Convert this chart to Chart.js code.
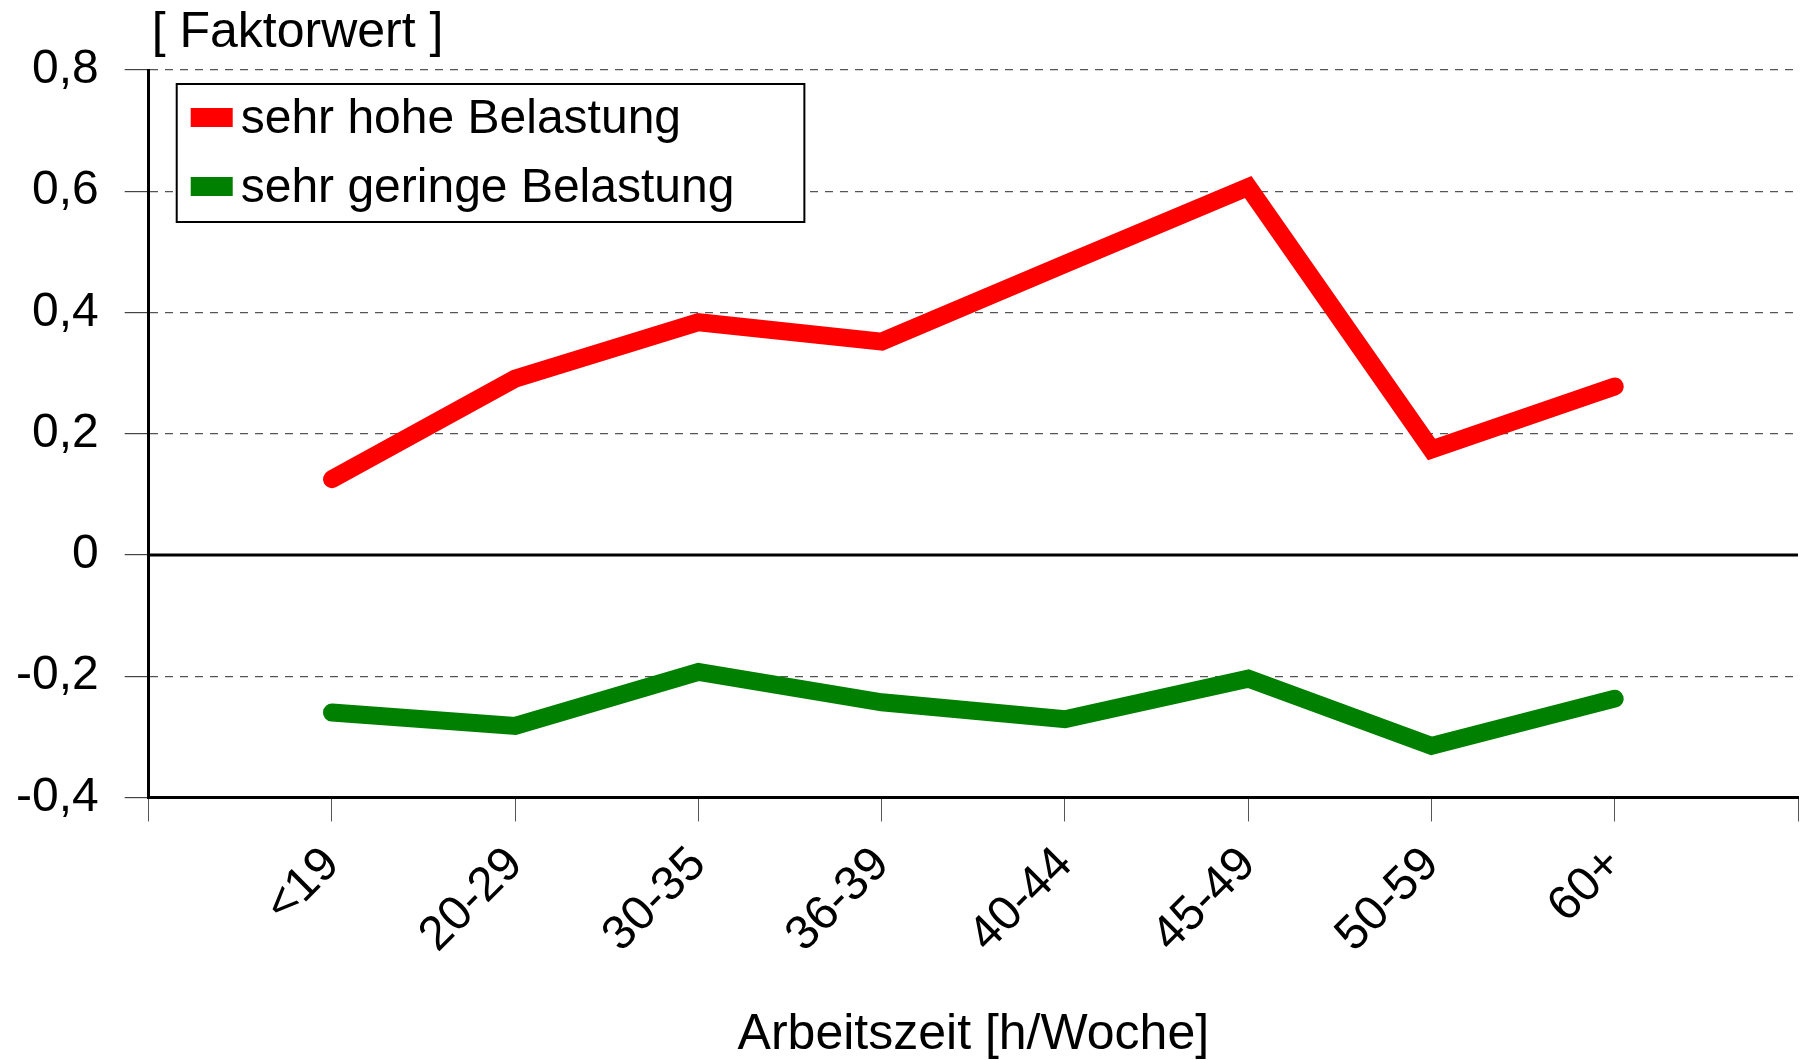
<!DOCTYPE html>
<html>
<head>
<meta charset="utf-8">
<script src="https://cdn.jsdelivr.net/npm/chart.js@4.4.0/dist/chart.umd.min.js"></script>
<style>
    html, body { margin: 0; padding: 0; background: #fff; }
    #wrap { width: 1800px; height: 1060px; position: relative; }
</style>
</head>
<body>
<div id="wrap"><canvas id="myChart"></canvas></div>
<script>
// Werte
const categories = ['<19', '20-29', '30-35', '36-39', '40-44', '45-49', '50-59', '60+'];
const hoheBelastung = [0.125, 0.291, 0.384, 0.352, 0.48, 0.607, 0.174, 0.278];
const geringeBelastung = [-0.260, -0.282, -0.193, -0.243, -0.271, -0.204, -0.315, -0.237];
const yTickValues = [-0.4, -0.2, 0, 0.2, 0.4, 0.6, 0.8];
const yTickLabels = ['-0,4', '-0,2', '0', '0,2', '0,4', '0,6', '0,8'];
const seriesLabels = ['sehr hohe Belastung', 'sehr geringe Belastung'];
const seriesColors = ['#ff0000', '#008000'];

const FONT = "'Liberation Sans', Arial, sans-serif";
Chart.defaults.font.family = FONT;
Chart.defaults.font.size = 48;
Chart.defaults.color = '#000';

// zero line, solid and black
const zeroLine = {
    id: 'zeroLine',
    beforeDatasetsDraw(chart) {
        const { ctx, chartArea, scales } = chart;
        const y = scales.y.getPixelForValue(0);
        ctx.save();
        ctx.strokeStyle = '#000';
        ctx.lineWidth = 3;
        ctx.beginPath();
        ctx.moveTo(chartArea.left, y);
        ctx.lineTo(chartArea.right, y);
        ctx.stroke();
        ctx.restore();
    }
};

// "[ Faktorwert ]" above the y axis
const yUnit = {
    id: 'yUnit',
    afterDraw(chart) {
        const { ctx, chartArea } = chart;
        ctx.save();
        ctx.font = '50px ' + FONT;
        ctx.fillStyle = '#000';
        ctx.textAlign = 'left';
        ctx.textBaseline = 'alphabetic';
        ctx.fillText('[ Faktorwert ]', chartArea.left + 3, chartArea.top - 23);
        ctx.restore();
    }
};

// legend with a frame inside the plot
const boxLegend = {
    id: 'boxLegend',
    afterDraw(chart) {
        const { ctx, chartArea } = chart;
        const sets = chart.data.datasets;
        ctx.save();
        ctx.font = '48px ' + FONT;
        let maxW = 0;
        sets.forEach(ds => { maxW = Math.max(maxW, ctx.measureText(ds.label).width); });
        const left = chartArea.left + 28;
        const top = chartArea.top + 14;
        const rowH = 69;
        const w = 14 + 42 + 8 + maxW + 70;
        const h = rowH * sets.length;
        ctx.fillStyle = '#fff';
        ctx.fillRect(left, top, w, h);
        ctx.strokeStyle = '#000';
        ctx.lineWidth = 2;
        ctx.strokeRect(left, top, w, h);
        sets.forEach((ds, i) => {
            const cy = top + 34 + i * rowH;
            ctx.fillStyle = ds.borderColor;
            ctx.fillRect(left + 14, cy - 10, 42, 19);
            ctx.fillStyle = '#000';
            ctx.textAlign = 'left';
            ctx.textBaseline = 'middle';
            ctx.fillText(ds.label, left + 64, cy + 2);
        });
        ctx.restore();
    }
};

const ctx = document.getElementById('myChart').getContext('2d');
new Chart(ctx, {
    type: 'line',
    data: {
        datasets: [
            {
                label: seriesLabels[0],
                data: hoheBelastung.map((v, i) => ({ x: i + 1, y: v })),
                borderColor: seriesColors[0],
                backgroundColor: seriesColors[0],
                borderWidth: 18,
                borderCapStyle: 'round',
                borderJoinStyle: 'miter',
                pointRadius: 0,
                pointHoverRadius: 0,
                tension: 0
            },
            {
                label: seriesLabels[1],
                data: geringeBelastung.map((v, i) => ({ x: i + 1, y: v })),
                borderColor: seriesColors[1],
                backgroundColor: seriesColors[1],
                borderWidth: 18,
                borderCapStyle: 'round',
                borderJoinStyle: 'miter',
                pointRadius: 0,
                pointHoverRadius: 0,
                tension: 0
            }
        ]
    },
    options: {
        responsive: true,
        maintainAspectRatio: false,
        animation: false,
        events: [],
        layout: {
            padding: { left: 16, right: 2, top: 70, bottom: 0 }
        },
        scales: {
            x: {
                type: 'linear',
                min: 0,
                max: categories.length + 1,
                afterFit: function (scale) {
                    // no extra room for the empty end labels
                    scale.paddingLeft = 0;
                    scale.paddingRight = 0;
                },
                ticks: {
                    stepSize: 1,
                    autoSkip: false,
                    maxRotation: 45,
                    minRotation: 45,
                    padding: 15,
                    callback: function (value) {
                        return categories[value - 1] || '';
                    }
                },
                grid: {
                    drawOnChartArea: false,
                    drawTicks: true,
                    tickLength: 24,
                    color: '#555',
                    lineWidth: 1
                },
                border: { display: true, color: '#000', width: 3 },
                title: {
                    display: true,
                    text: 'Arbeitszeit [h/Woche]',
                    font: { size: 50, lineHeight: 1 },
                    padding: { top: 31, bottom: 0 }
                }
            },
            y: {
                min: -0.4,
                max: 0.8,
                afterBuildTicks: function (axis) {
                    axis.ticks = yTickValues.map(v => ({ value: v }));
                },
                afterFit: function (scale) {
                    // labels sit right next to the tick marks
                    scale.width -= scale.options.ticks.padding;
                },
                ticks: {
                    padding: 26,
                    callback: function (value, index) {
                        return yTickLabels[index];
                    }
                },
                grid: {
                    tickLength: 24,
                    lineWidth: 1.2,
                    color: function (c) {
                        if (!c.tick) return 'rgba(0,0,0,0)';
                        if (Math.abs(c.tick.value) < 1e-9 || c.tick.value < -0.39) return 'rgba(0,0,0,0)';
                        return '#555';
                    },
                    tickColor: '#444'
                },
                border: { display: true, color: '#000', width: 3, dash: [8, 7] }
            }
        },
        plugins: {
            legend: { display: false },
            tooltip: { enabled: false },
            title: { display: false }
        }
    },
    plugins: [zeroLine, boxLegend, yUnit]
});
</script>
</body>
</html>
